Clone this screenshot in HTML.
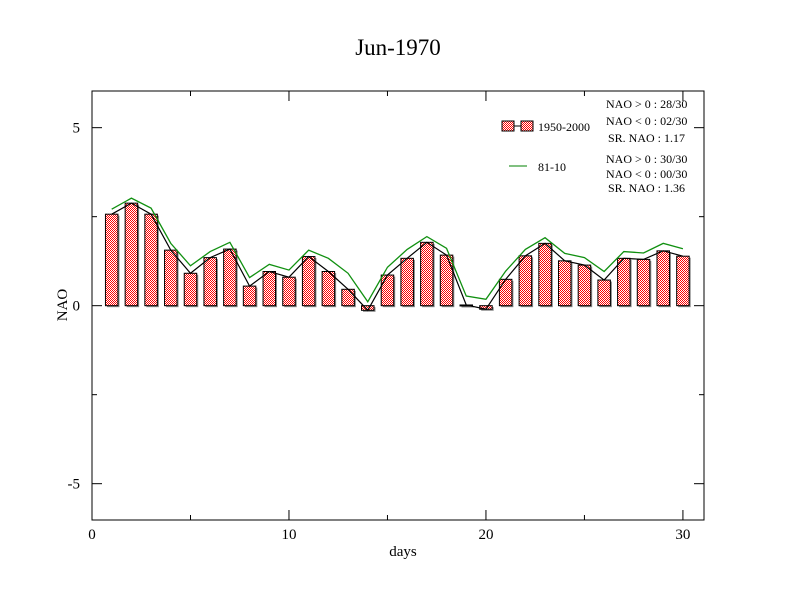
<!DOCTYPE html>
<html><head><meta charset="utf-8"><style>
html,body{margin:0;padding:0;background:#fff;}
svg{display:block;font-family:"Liberation Serif",serif;}
</style></head><body>
<svg id="chart" width="792" height="612">
<defs>
<pattern id="chk" width="2" height="2" patternUnits="userSpaceOnUse">
<rect width="2" height="2" fill="#fff"/><rect width="1" height="1" fill="#f00"/><rect x="1" y="1" width="1" height="1" fill="#f00"/>
</pattern>
</defs>
<rect width="792" height="612" fill="#fff"/>
<text x="398" y="55" font-size="23" text-anchor="middle">Jun-1970</text>
<rect x="92" y="91" width="612" height="429" fill="none" stroke="#000" stroke-width="1"/>
<g id="axes"></g>
<g id="marks"></g>
<text x="403" y="556" font-size="15" text-anchor="middle">days</text>
<text transform="translate(67,305) rotate(-90)" font-size="15" text-anchor="middle">NAO</text>
<g font-size="12">
<line x1="508" y1="126" x2="528" y2="126" stroke="#000"/>
<rect x="502" y="121" width="12" height="10" fill="url(#chk)" stroke="#000"/>
<rect x="521" y="121" width="12" height="10" fill="url(#chk)" stroke="#000"/>
<text x="538" y="131">1950-2000</text>
<line x1="509" y1="166" x2="527" y2="166" stroke="#008000"/>
<text x="538" y="171">81-10</text>
<text x="606" y="108">NAO &gt; 0 : 28/30</text>
<text x="606" y="125">NAO &lt; 0 : 02/30</text>
<text x="608" y="142">SR. NAO :  1.17</text>
<text x="606" y="163">NAO &gt; 0 : 30/30</text>
<text x="606" y="178">NAO &lt; 0 : 00/30</text>
<text x="608" y="192">SR. NAO :  1.36</text>
</g>
</svg>
<script>
const days=[1,2,3,4,5,6,7,8,9,10,11,12,13,14,15,16,17,18,19,20,21,22,23,24,25,26,27,28,29,30];
const nao1950=[2.57,2.88,2.57,1.56,0.91,1.35,1.59,0.55,0.96,0.80,1.38,0.96,0.46,-0.13,0.86,1.33,1.78,1.42,0.02,-0.1,0.74,1.40,1.75,1.26,1.14,0.72,1.33,1.30,1.54,1.39];
const nao8110=[2.71,3.02,2.74,1.75,1.12,1.52,1.78,0.79,1.16,1.0,1.56,1.33,0.91,0.11,1.08,1.58,1.94,1.61,0.27,0.18,0.97,1.58,1.91,1.47,1.35,0.96,1.52,1.48,1.75,1.60];
const xTicks=[0,10,20,30];
const yTicks=[-5,0,5];
const X0=92,X1=704,Y0=520,Y1=91,xmin=0,xmax=31.07,ymin=-6.02,ymax=6.03;
const sx=v=>X0+(v-xmin)/(xmax-xmin)*(X1-X0);
const sy=v=>Y0-(v-ymin)/(ymax-ymin)*(Y0-Y1);
const NS='http://www.w3.org/2000/svg';
function mk(t,a,p){const e=document.createElementNS(NS,t);for(const k in a)e.setAttribute(k,a[k]);p.appendChild(e);return e;}
const ax=document.getElementById('axes'),mg=document.getElementById('marks');
xTicks.forEach(t=>{
  const l=mk('line',{x1:sx(t),x2:sx(t),y1:Y0,y2:Y0-10,stroke:'#000'},ax);
  
  
  mk('line',{x1:sx(t),x2:sx(t),y1:Y1,y2:Y1+10,stroke:'#000'},ax);
  const tx=mk('text',{x:sx(t),y:Y0+19,'font-size':15,'text-anchor':'middle'},ax);tx.textContent=t;
  
  
});
[5,15,25].forEach(t=>{mk('line',{x1:sx(t),x2:sx(t),y1:Y0,y2:Y0-5,stroke:'#000'},ax);mk('line',{x1:sx(t),x2:sx(t),y1:Y1,y2:Y1+5,stroke:'#000'},ax);});
yTicks.forEach(t=>{
  const l=mk('line',{x1:X0,x2:X0+10,y1:sy(t),y2:sy(t),stroke:'#000'},ax);
  
  
  mk('line',{x1:X1,x2:X1-10,y1:sy(t),y2:sy(t),stroke:'#000'},ax);
  const tx=mk('text',{x:X0-12,y:sy(t)+5,'font-size':15,'text-anchor':'end'},ax);tx.textContent=t;
  
  
});
[-2.5,2.5].forEach(t=>{mk('line',{x1:X0,x2:X0+5,y1:sy(t),y2:sy(t),stroke:'#000'},ax);mk('line',{x1:X1,x2:X1-5,y1:sy(t),y2:sy(t),stroke:'#000'},ax);});
const bw=12.5;
days.forEach((d,i)=>{
  const v=nao1950[i],y=Math.min(sy(v),sy(0)),h=Math.max(Math.abs(sy(v)-sy(0)),1);
  mk('rect',{x:sx(d)-bw/2+1.5,y:y+1.5,width:bw,height:h,fill:'#888'},mg);
  const r=mk('rect',{x:sx(d)-bw/2,y:y,width:bw,height:h,fill:'url(#chk)',stroke:'#000','stroke-width':1},mg);
  
  
});
const p1=mk('polyline',{points:days.map((d,i)=>sx(d)+','+sy(nao1950[i])).join(' '),fill:'none',stroke:'#000','stroke-width':1.2},mg);


const p2=mk('polyline',{points:days.map((d,i)=>sx(d)+','+sy(nao8110[i])).join(' '),fill:'none',stroke:'#109010','stroke-width':1.3},mg);


</script>
</body></html>
